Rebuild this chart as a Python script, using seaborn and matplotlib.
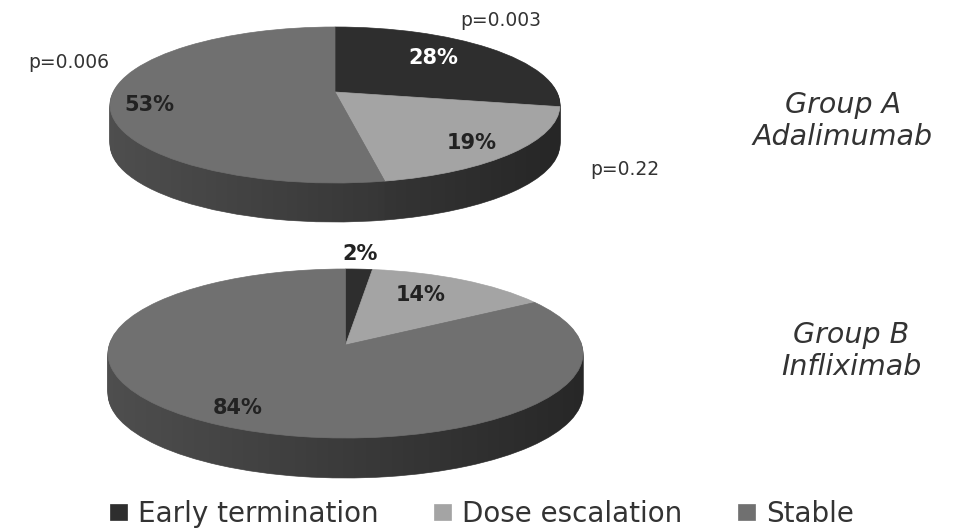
import numpy as np
import matplotlib
matplotlib.use("Agg")
import matplotlib.pyplot as plt
from matplotlib.patches import Polygon
from matplotlib.path import Path
import seaborn as sns

# values
categories = ['Early termination', 'Dose escalation', 'Stable']
group_a = [28, 19, 53]
group_b = [2, 14, 84]
p_values = ['p=0.003', 'p=0.22', 'p=0.006']

sns.set_theme(style='white')
plt.rcParams['font.family'] = ['DejaVu Sans']

top_colors = sns.color_palette(['#2e2e2e', '#a4a4a4', '#707070'])
side_colors_a = sns.color_palette(['#222222', '#4c4c4c', '#4e4e4e'])
side_colors_b = sns.color_palette(['#222222', '#555555', '#4e4e4e'])

W, H = 960, 530
fig = plt.figure(figsize=(W / 100, H / 100), dpi=100)


def tilt(wedges, a, dy):
    # move the apex off the ellipse centre, like a perspective pie
    for w in wedges:
        path = w.get_path()
        x, y = path.vertices[:, 0], path.vertices[:, 1] - dy
        d = 1 + a * y
        verts = np.column_stack([x * np.sqrt(1 - a ** 2) / d, (y + a) / d + dy])
        w._path = Path(verts, path.codes)
        w.set_edgecolor(w.get_facecolor())
        w.set_linewidth(0.5)


def pie3d(values, side_colors, left, right, top, bottom, depth, apex_y):
    ry = (bottom - top) / 2
    pad = 4
    ax = fig.add_axes([(left - pad) / W, 1 - (bottom + depth + pad) / H,
                       (right - left + 2 * pad) / W, (bottom + depth - top + 2 * pad) / H])
    a = ((top + bottom) / 2 - apex_y) / ry
    for d in range(depth, 0, -1):
        wedges, _ = ax.pie(values, colors=side_colors, startangle=90, counterclock=False,
                           center=(0, -d / ry), radius=1)
        tilt(wedges, a, -d / ry)

    # side of the pie gets darker to the right
    shade = np.zeros((1, 256, 4))
    shade[..., 3] = np.linspace(0, 0.5, 256)
    t = np.linspace(np.pi, 2 * np.pi, 200)
    outline = np.column_stack([np.cos(t), np.sin(t) - depth / ry])
    im = ax.imshow(shade, extent=(-1, 1, -1 - depth / ry, 0), aspect='auto', zorder=1)
    im.set_clip_path(Polygon(np.vstack([[-1, 0], outline, [1, 0]]), transform=ax.transData))

    wedges, _ = ax.pie(values, colors=top_colors, startangle=90, counterclock=False,
                       center=(0, 0), radius=1)
    tilt(wedges, a, 0)
    ax.set_aspect('auto')
    ax.set_frame_on(False)
    ax.set_xlim(-1 - pad * 2 / (right - left), 1 + pad * 2 / (right - left))
    ax.set_ylim(-1 - (depth + pad) / ry, 1 + pad / ry)
    return wedges


def label(x, y, s, **kw):
    fig.text(x / W, 1 - y / H, s, ha='center', va='center', **kw)


wedges_a = pie3d(group_a, side_colors_a, 110, 560, 27, 183, 39, 92)
wedges_b = pie3d(group_b, side_colors_b, 108, 583, 269, 438, 40, 345)

# percent labels
for (x, y), v, c in zip([(433, 58), (472, 143), (149, 105)], group_a, ['white', '#222222', '#222222']):
    label(x, y, f'{v}%', fontsize=15, fontweight='bold', color=c)
for (x, y), v in zip([(360, 254), (421, 295), (238, 408)], group_b):
    label(x, y, f'{v}%', fontsize=15, fontweight='bold', color='#222222')

# p values
for (x, y), s in zip([(501, 21), (625, 170), (69, 63)], p_values):
    label(x, y, s, fontsize=13.5, color='#333333')

label(843, 121, 'Group A\nAdalimumab', fontsize=20.5, style='italic', color='#333333', linespacing=1.15)
label(851, 351, 'Group B\nInfliximab', fontsize=20.5, style='italic', color='#333333', linespacing=1.15)

fig.legend(wedges_a, categories, loc='center', bbox_to_anchor=(482 / W, 1 - 514 / H), ncol=3,
           frameon=False, fontsize=20, labelcolor='#333333', handlelength=0.62, handleheight=0.5,
           handletextpad=0.4, columnspacing=2.0, borderpad=0)

fig.savefig('out.png', dpi=100)
